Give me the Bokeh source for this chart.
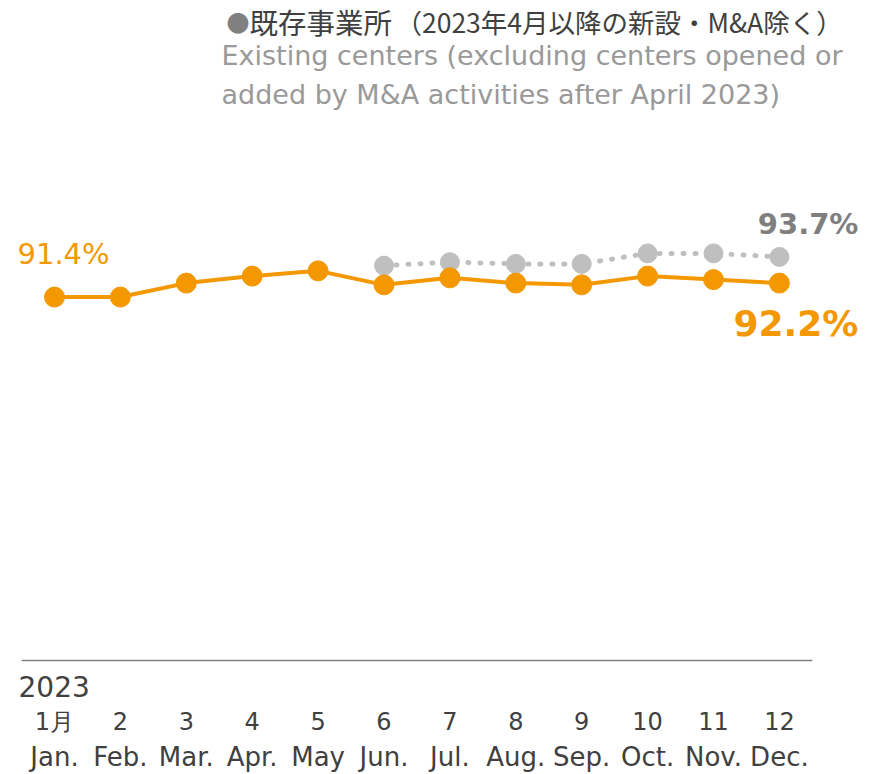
from bokeh.plotting import figure
from bokeh.models import Label, Range1d, LinearAxis, FixedTicker
from bokeh.embed import file_html
from bokeh.resources import INLINE

# ---- data ----
month_pos = [1, 2, 3, 4, 5, 6, 7, 8, 9, 10, 11, 12]
months_num = ["1月", "2", "3", "4", "5", "6", "7", "8", "9", "10", "11", "12"]
months_en = ["Jan.", "Feb.", "Mar.", "Apr.", "May", "Jun.", "Jul.", "Aug.", "Sep.", "Oct.", "Nov.", "Dec."]
all_centers = [91.4, 91.4, 92.2, 92.6, 92.9, 92.1, 92.5, 92.2, 92.1, 92.6, 92.4, 92.2]
existing_pos = [6, 7, 8, 9, 10, 11, 12]
existing_centers = [93.2, 93.4, 93.3, 93.3, 93.9, 93.9, 93.7]
year_text = "2023"
title_mark = "●"
title_jp = "既存事業所"
title_jp_note = "（2023年4月以降の新設・M&A除く）"
title_en_1 = "Existing centers (excluding centers opened or"
title_en_2 = "added by M&A activities after April 2023)"
baseline_value = 70.6

ORANGE = "#F39800"
GREY_MARK = "#BFBFBF"
GREY_TEXT = "#7F7F7F"
DARK = "#404040"
LIGHT = "#999999"
FONT = "DejaVu Sans"
JP_FONT = "Noto Sans CJK JP"

W, H = 869, 774
frame_bottom = 704          # px from top of canvas
px_per_unit_y = 17.5
px_per_month = 65.9
first_month_px = 54

x_start = month_pos[0] - first_month_px / px_per_month
x_end = x_start + W / px_per_month
y_start = baseline_value - (frame_bottom - 661) / px_per_unit_y
y_end = y_start + frame_bottom / px_per_unit_y

p = figure(width=W, height=H, x_range=Range1d(x_start, x_end),
           y_range=Range1d(y_start, y_end), output_backend="svg",
           toolbar_location=None, min_border_left=0, min_border_right=0,
           min_border_top=0, min_border_bottom=H - frame_bottom,
           x_axis_type=None, y_axis_type=None)
p.outline_line_color = None
p.xgrid.visible = False
p.ygrid.visible = False
p.background_fill_color = "white"
p.border_fill_color = "white"


def month_axis(labels, size, standoff):
    ax = LinearAxis(ticker=FixedTicker(ticks=month_pos),
                    major_label_overrides=dict(zip(month_pos, labels)))
    ax.axis_line_color = None
    ax.major_tick_line_color = None
    ax.minor_tick_line_color = None
    ax.major_tick_out = 0
    ax.major_tick_in = 0
    ax.major_label_text_font = FONT
    ax.major_label_text_font_size = size
    ax.major_label_text_color = DARK
    ax.major_label_standoff = standoff
    return ax


p.add_layout(month_axis(months_num, "24px", 4), "below")
p.add_layout(month_axis(months_en, "26px", 3), "below")

# baseline (x axis line)
p.segment(x0=[month_pos[0] - 0.5], y0=[baseline_value], x1=[month_pos[-1] + 0.5],
          y1=[baseline_value], line_color="#808080", line_width=1.5)

# existing centers (grey dotted)
p.line(existing_pos, existing_centers, line_color=GREY_MARK, line_width=5,
       line_dash="1 11", line_cap="round")
p.scatter(existing_pos, existing_centers, size=19, fill_color=GREY_MARK,
          line_color=GREY_MARK)

# all centers (orange)
p.line(month_pos, all_centers, line_color=ORANGE, line_width=4)
p.scatter(month_pos, all_centers, size=20, fill_color=ORANGE, line_color=ORANGE)

# value labels
p.add_layout(Label(x=month_pos[0], y=all_centers[0], text="91.4%", text_align="left",
                   text_baseline="alphabetic", x_offset=-37, y_offset=43, text_font=FONT,
                   text_font_size="29px", text_color=ORANGE))
p.add_layout(Label(x=existing_pos[-1], y=existing_centers[-1], text="93.7%",
                   text_align="right", text_baseline="alphabetic", x_offset=79, y_offset=33,
                   text_font=FONT, text_font_style="bold", text_font_size="29px",
                   text_color=GREY_TEXT))
p.add_layout(Label(x=month_pos[-1], y=all_centers[-1], text="92.2%", text_align="right",
                   text_baseline="alphabetic", x_offset=79, y_offset=-40, text_font=FONT,
                   text_font_style="bold", text_font_size="36px", text_color=ORANGE))

# year
p.add_layout(Label(x=month_pos[0], y=baseline_value, text=year_text, text_align="left",
                   text_baseline="alphabetic", x_offset=-36, y_offset=-26, text_font=FONT,
                   text_font_size="28px", text_color=DARK))

# header (screen units measured from the frame's bottom-left corner)
def header(text, sx, page_y, font, size, color):
    p.add_layout(Label(x=sx, y=frame_bottom - page_y, x_units="screen",
                       y_units="screen", text=text, text_baseline="alphabetic",
                       text_font=font, text_font_size=size, text_color=color))


header(title_mark, 226, 22, JP_FONT, "23px", "#808080")
header(title_jp, 249, 22, JP_FONT, "28.5px", DARK)
header(title_jp_note, 395, 22, JP_FONT, "26.5px", DARK)
header(title_en_1, 221, 56, FONT, "27px", LIGHT)
header(title_en_2, 221, 95, FONT, "27px", LIGHT)

open("out.html", "w").write(file_html(p, INLINE))
